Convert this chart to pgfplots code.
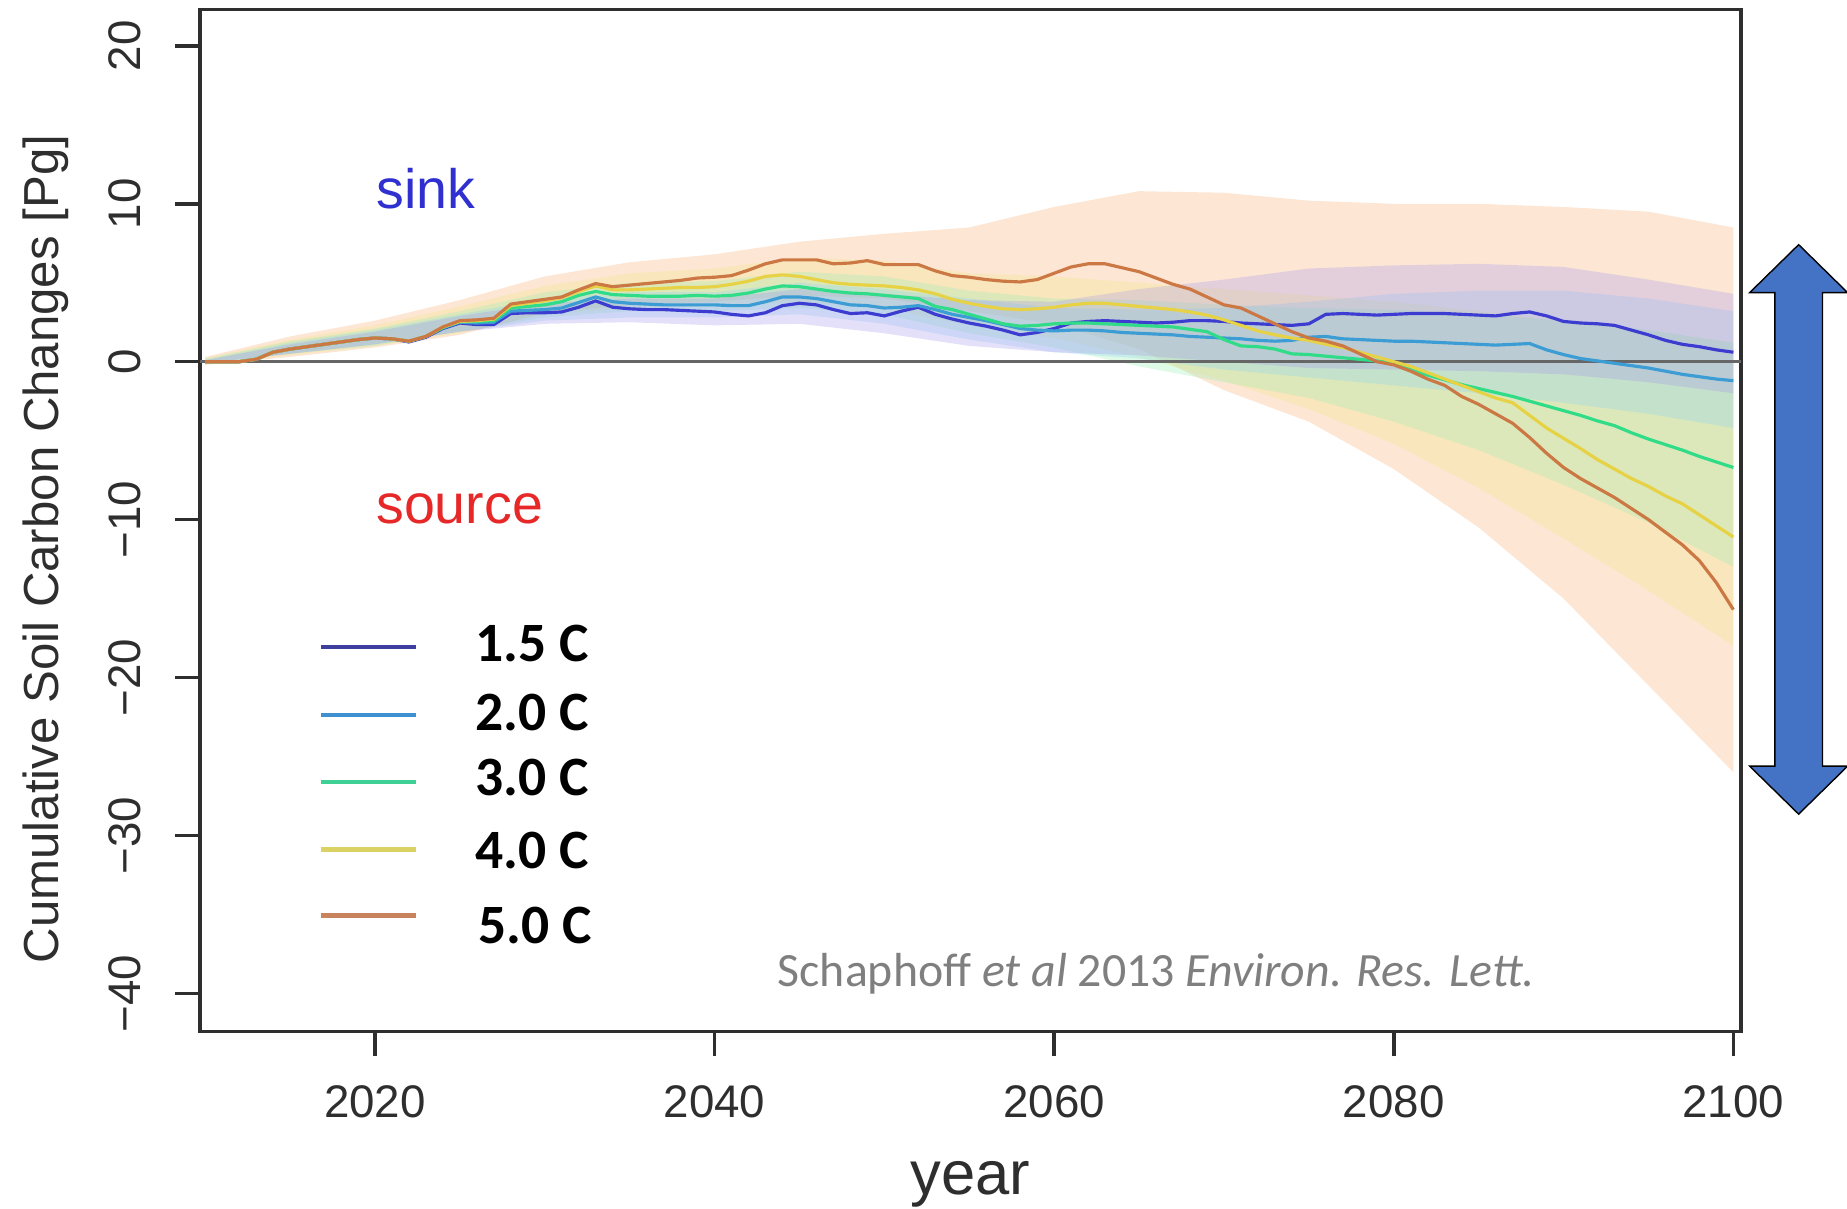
\documentclass[border=0pt]{standalone}
\usepackage{fontspec}
\setmainfont{Liberation Sans}
\newfontfamily\carlito{Carlito}
\usepackage{pgfplots}
\usepackage{pgfplotstable}
\pgfplotsset{compat=1.18}
\usepgfplotslibrary{fillbetween}

% series colours
\definecolor{c15}{HTML}{3C3CD0}
\definecolor{c20}{HTML}{3C9CD4}
\definecolor{c30}{HTML}{30DC88}
\definecolor{c40}{HTML}{E6D244}
\definecolor{c50}{HTML}{CC7844}
% legend sample colours
\definecolor{l15}{HTML}{3E3E9E}
\definecolor{l20}{HTML}{3E90D0}
\definecolor{l30}{HTML}{3ED094}
\definecolor{l40}{HTML}{DCD264}
\definecolor{l50}{HTML}{C8825C}
% uncertainty band colours
\definecolor{b15}{HTML}{A898EC}
\definecolor{b20}{HTML}{90D4F4}
\definecolor{b30}{HTML}{98EEB4}
\definecolor{b40}{HTML}{F4E884}
\definecolor{b50}{HTML}{FAC8A0}
\definecolor{axisgray}{HTML}{2E2E2E}
\definecolor{zerogray}{HTML}{666666}
\definecolor{sinkblue}{HTML}{3030D0}
\definecolor{sourcered}{HTML}{E62828}
\definecolor{citegray}{HTML}{7F7F7F}
\definecolor{arrowblue}{HTML}{4472C4}

% cumulative soil carbon change [Pg], median per warming level
\pgfplotstableread{
yr t15 t20 t30 t40 t50
2010 0 0 0 0 0
2011 0 0 0 0 0
2012 0 0 0 0 0
2013 0.15 0.15 0.15 0.15 0.15
2014 0.6 0.6 0.6 0.6 0.6
2015 0.8 0.8 0.8 0.8 0.8
2016 0.95 0.95 0.95 0.95 0.95
2017 1.1 1.1 1.1 1.1 1.1
2018 1.25 1.25 1.25 1.25 1.25
2019 1.4 1.4 1.4 1.4 1.4
2020 1.5 1.5 1.5 1.5 1.5
2021 1.45 1.45 1.45 1.45 1.45
2022 1.25 1.3 1.3 1.3 1.3
2023 1.55 1.6 1.6 1.6 1.6
2024 2.1 2.15 2.15 2.2 2.2
2025 2.45 2.5 2.55 2.55 2.6
2026 2.35 2.45 2.55 2.6 2.65
2027 2.35 2.5 2.6 2.7 2.75
2028 3.05 3.2 3.4 3.55 3.65
2029 3.1 3.25 3.5 3.7 3.8
2030 3.1 3.3 3.6 3.85 3.95
2031 3.15 3.4 3.8 4.05 4.1
2032 3.45 3.75 4.2 4.45 4.55
2033 3.85 4.1 4.45 4.8 4.95
2034 3.45 3.8 4.25 4.55 4.75
2035 3.35 3.7 4.2 4.55 4.85
2036 3.3 3.65 4.15 4.6 4.95
2037 3.3 3.6 4.15 4.65 5.05
2038 3.25 3.6 4.15 4.7 5.15
2039 3.2 3.6 4.2 4.7 5.3
2040 3.15 3.6 4.15 4.75 5.35
2041 3.0 3.55 4.2 4.9 5.45
2042 2.9 3.55 4.35 5.1 5.8
2043 3.1 3.8 4.6 5.4 6.2
2044 3.55 4.1 4.8 5.5 6.45
2045 3.7 4.1 4.75 5.4 6.45
2046 3.6 4.0 4.6 5.2 6.45
2047 3.3 3.8 4.45 5.0 6.2
2048 3.05 3.6 4.35 4.9 6.25
2049 3.1 3.55 4.3 4.85 6.4
2050 2.9 3.4 4.2 4.8 6.15
2051 3.2 3.45 4.1 4.7 6.15
2052 3.45 3.55 4.0 4.55 6.15
2053 3.0 3.3 3.5 4.3 5.75
2054 2.7 3.0 3.3 3.95 5.45
2055 2.45 2.8 3.0 3.7 5.35
2056 2.25 2.6 2.7 3.5 5.2
2057 2.0 2.35 2.4 3.35 5.1
2058 1.7 2.1 2.25 3.3 5.05
2059 1.85 2.0 2.3 3.35 5.2
2060 2.1 1.95 2.4 3.45 5.6
2061 2.45 2.0 2.45 3.6 6.0
2062 2.55 2.0 2.45 3.7 6.2
2063 2.6 1.95 2.4 3.7 6.2
2064 2.55 1.85 2.35 3.6 5.95
2065 2.5 1.8 2.3 3.5 5.7
2066 2.45 1.75 2.25 3.4 5.3
2067 2.5 1.7 2.2 3.3 4.9
2068 2.6 1.6 2.05 3.15 4.6
2069 2.6 1.55 1.9 2.95 4.1
2070 2.55 1.5 1.4 2.65 3.6
2071 2.45 1.45 1.0 2.3 3.4
2072 2.4 1.35 0.95 1.95 2.9
2073 2.35 1.3 0.8 1.7 2.4
2074 2.3 1.35 0.5 1.5 1.9
2075 2.4 1.55 0.45 1.35 1.5
2076 3.0 1.6 0.35 1.1 1.3
2077 3.05 1.45 0.25 0.9 1.0
2078 3.0 1.4 0.15 0.6 0.5
2079 2.95 1.35 0.05 0.3 0.0
2080 3.0 1.3 -0.1 0.0 -0.2
2081 3.05 1.3 -0.5 -0.3 -0.6
2082 3.05 1.25 -0.85 -0.7 -1.1
2083 3.05 1.2 -1.15 -1.1 -1.5
2084 3.0 1.15 -1.45 -1.5 -2.2
2085 2.95 1.1 -1.7 -1.9 -2.7
2086 2.9 1.05 -1.95 -2.3 -3.3
2087 3.05 1.1 -2.2 -2.6 -3.9
2088 3.15 1.15 -2.5 -3.4 -4.8
2089 2.9 0.75 -2.8 -4.2 -5.8
2090 2.55 0.45 -3.1 -4.85 -6.7
2091 2.45 0.2 -3.4 -5.5 -7.4
2092 2.4 0.05 -3.75 -6.2 -8.0
2093 2.3 -0.1 -4.05 -6.8 -8.6
2094 2.0 -0.25 -4.5 -7.4 -9.3
2095 1.7 -0.4 -4.9 -7.9 -10.0
2096 1.35 -0.6 -5.25 -8.5 -10.8
2097 1.1 -0.8 -5.6 -9.0 -11.6
2098 0.95 -0.95 -6.0 -9.7 -12.6
2099 0.75 -1.1 -6.35 -10.4 -14.0
2100 0.6 -1.2 -6.7 -11.1 -15.7
}\soilc

% model spread (lower / upper envelope) per warming level
\pgfplotstableread{
yr lo15 hi15 lo20 hi20 lo30 hi30 lo40 hi40 lo50 hi50
2010 -0.1 0.1 -0.1 0.1 -0.1 0.2 -0.1 0.2 -0.2 0.3
2015 0.5 1.1 0.5 1.2 0.5 1.3 0.4 1.4 0.3 1.6
2020 1.1 1.9 1.1 2.0 1.0 2.1 1.0 2.3 0.9 2.6
2025 1.9 2.9 1.9 3.0 1.9 3.2 1.8 3.5 1.7 3.9
2030 2.4 3.7 2.6 4.0 2.8 4.4 3.0 4.8 3.1 5.4
2035 2.5 4.0 2.8 4.4 3.2 5.0 3.4 5.6 3.6 6.3
2040 2.3 4.0 2.8 4.4 3.2 5.1 3.5 5.9 3.8 6.8
2045 2.4 4.6 3.0 5.0 3.4 5.7 3.8 6.6 4.2 7.6
2050 1.8 4.3 2.4 4.6 3.0 5.4 3.4 6.4 4.0 8.1
2055 1.0 3.9 1.4 4.0 1.8 4.5 2.3 5.6 3.2 8.5
2060 0.6 3.8 0.6 3.4 0.9 4.0 1.5 5.4 2.4 9.8
2065 0.4 4.6 0.2 3.3 -0.3 3.9 0.3 5.0 0.8 10.8
2070 0.0 5.2 -0.5 3.4 -1.3 3.6 -1.2 4.6 -1.8 10.7
2075 -0.4 5.9 -1.0 3.8 -2.3 3.4 -3.0 4.2 -3.8 10.2
2080 -0.5 6.1 -1.5 4.3 -3.8 3.3 -5.2 3.8 -6.8 10.0
2085 -0.6 6.2 -2.0 4.5 -5.6 3.0 -8.0 3.2 -10.5 10.0
2090 -0.8 6.0 -2.6 4.5 -7.8 2.6 -11.2 2.6 -15.0 9.8
2095 -1.3 5.2 -3.3 4.0 -10.2 2.0 -14.5 2.0 -20.5 9.5
2100 -2.0 4.3 -4.2 3.2 -13.0 1.2 -18.0 1.2 -26.0 8.5
}\bands

\begin{document}
\begin{tikzpicture}
\begin{axis}[
  scale only axis,
  width=154.1mm, height=102.2mm,
  xmin=2009.7, xmax=2100.45,
  ymin=-42.41, ymax=22.31,
  clip=false,
  axis line style={color=axisgray, line width=1pt},
  tick pos=left,
  tick align=outside,
  major tick length=2.5mm,
  tick style={color=axisgray, line width=1pt},
  xtick={2020,2040,2060,2080,2100},
  xticklabels={2020,2040,2060,2080,2100},
  ytick={-40,-30,-20,-10,0,10,20},
  yticklabels={−40,−30,−20,−10,0,10,20},
  xticklabel style={font=\fontsize{13}{13}\selectfont, text=axisgray, anchor=base},
  xticklabel shift=6.1mm,
  yticklabel style={font=\fontsize{13}{13}\selectfont, text=axisgray, rotate=90, anchor=base},
  yticklabel shift=3.5mm,
  xlabel={year},
  ylabel={Cumulative Soil Carbon Changes [Pg]},
  every axis x label/.style={at={(axis description cs:0.5,-0.1596)}, anchor=base,
    font=\fontsize{17.5}{17.5}\selectfont, text=axisgray},
  every axis y label/.style={at={(axis description cs:-0.0921,0.472)}, rotate=90, anchor=base,
    font=\fontsize{14}{14}\selectfont, text=axisgray},
]

% zero reference line
\addplot[zerogray, line width=1pt, forget plot] coordinates {(2009.7,0) (2100.45,0)};

% spread envelopes
\addplot[draw=none, name path=u50, forget plot] table[x=yr, y=hi50] {\bands};
\addplot[draw=none, name path=d50, forget plot] table[x=yr, y=lo50] {\bands};
\addplot[draw=none, name path=u40, forget plot] table[x=yr, y=hi40] {\bands};
\addplot[draw=none, name path=d40, forget plot] table[x=yr, y=lo40] {\bands};
\addplot[draw=none, name path=u30, forget plot] table[x=yr, y=hi30] {\bands};
\addplot[draw=none, name path=d30, forget plot] table[x=yr, y=lo30] {\bands};
\addplot[draw=none, name path=u20, forget plot] table[x=yr, y=hi20] {\bands};
\addplot[draw=none, name path=d20, forget plot] table[x=yr, y=lo20] {\bands};
\addplot[draw=none, name path=u15, forget plot] table[x=yr, y=hi15] {\bands};
\addplot[draw=none, name path=d15, forget plot] table[x=yr, y=lo15] {\bands};
\addplot[fill=b50, fill opacity=0.45, draw=none, forget plot] fill between[of=u50 and d50];
\addplot[fill=b40, fill opacity=0.30, draw=none, forget plot] fill between[of=u40 and d40];
\addplot[fill=b30, fill opacity=0.30, draw=none, forget plot] fill between[of=u30 and d30];
\addplot[fill=b20, fill opacity=0.30, draw=none, forget plot] fill between[of=u20 and d20];
\addplot[fill=b15, fill opacity=0.30, draw=none, forget plot] fill between[of=u15 and d15];

% medians
\addplot[c15, line width=0.9pt] table[x=yr, y=t15] {\soilc};
\addplot[c20, line width=0.9pt] table[x=yr, y=t20] {\soilc};
\addplot[c30, line width=0.9pt] table[x=yr, y=t30] {\soilc};
\addplot[c40, line width=0.9pt] table[x=yr, y=t40] {\soilc};
\addplot[c50, line width=0.9pt] table[x=yr, y=t50] {\soilc};

% annotations
\node[anchor=base west, inner sep=0pt, text=sinkblue, font=\fontsize{15.8}{15.8}\selectfont]
  at (axis description cs:0.1139,0.8056) {sink};
\node[anchor=base west, inner sep=0pt, text=sourcered, font=\fontsize{15.8}{15.8}\selectfont]
  at (axis description cs:0.1139,0.4973) {source};

% legend
\draw[l15, line width=1.2pt] (axis description cs:0.0785,0.3762) -- (axis description cs:0.1402,0.3762);
\draw[l20, line width=1.2pt] (axis description cs:0.0785,0.3093) -- (axis description cs:0.1402,0.3093);
\draw[l30, line width=1.2pt] (axis description cs:0.0785,0.2440) -- (axis description cs:0.1402,0.2440);
\draw[l40, line width=1.2pt] (axis description cs:0.0785,0.1779) -- (axis description cs:0.1402,0.1779);
\draw[l50, line width=1.2pt] (axis description cs:0.0785,0.1135) -- (axis description cs:0.1402,0.1135);
\begin{scope}[every node/.style={anchor=base west, inner sep=0pt, font=\carlito\bfseries\fontsize{15.8}{15.8}\selectfont}]
\node at (axis description cs:0.1785,0.3615) {1.5 C};
\node at (axis description cs:0.1785,0.2946) {2.0 C};
\node at (axis description cs:0.1785,0.2310) {3.0 C};
\node at (axis description cs:0.1785,0.1593) {4.0 C};
\node at (axis description cs:0.1802,0.0858) {5.0 C};
\end{scope}

\node[anchor=base west, inner sep=0pt, text=citegray, font=\carlito\fontsize{13.6}{13.6}\selectfont]
  at (axis description cs:0.3745,0.0438) {Schaphoff \textit{et al} 2013 \textit{Environ. Res. Lett.}};

\coordinate (aT) at (axis description cs:1.0374,0.7698);
\coordinate (aB) at (axis description cs:1.0374,0.2126);
\end{axis}

% double-headed range arrow
\filldraw[fill=arrowblue, draw=black, line width=0.4pt]
  (aT) -- ([shift={(4.9mm,-4.8mm)}]aT) -- ([shift={(2.38mm,-4.8mm)}]aT)
  -- ([shift={(2.38mm,4.8mm)}]aB) -- ([shift={(4.9mm,4.8mm)}]aB) -- (aB)
  -- ([shift={(-4.9mm,4.8mm)}]aB) -- ([shift={(-2.38mm,4.8mm)}]aB)
  -- ([shift={(-2.38mm,-4.8mm)}]aT) -- ([shift={(-4.9mm,-4.8mm)}]aT) -- cycle;

\pgfresetboundingbox
\path[use as bounding box]
  ([shift={(-20mm,-17.7mm)}]current axis.south west)
  rectangle ([shift={(10.6mm,0.94mm)}]current axis.north east);
\end{tikzpicture}
\end{document}
